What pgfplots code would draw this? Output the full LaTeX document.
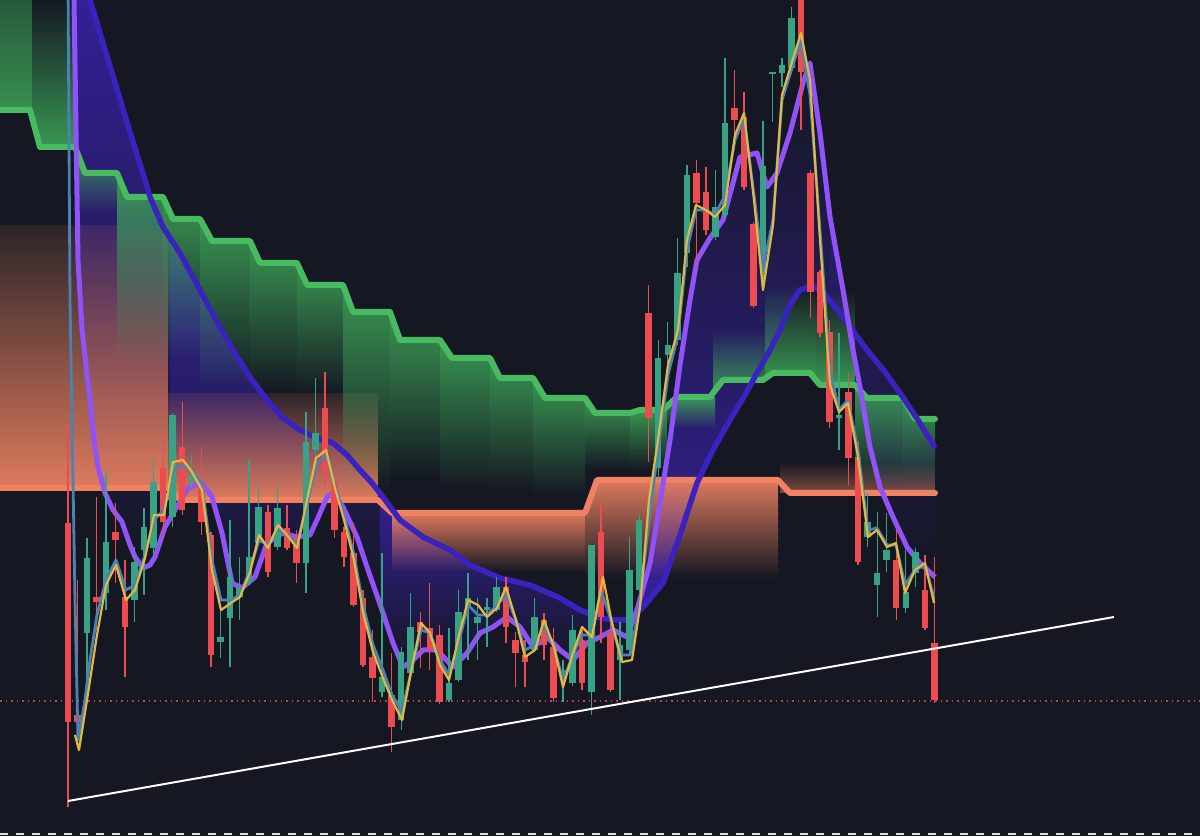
\documentclass[border=0pt]{standalone}
\usepackage{pgfplots}
\usepackage{pgfplotstable}
\pgfplotsset{compat=1.18}
\usepgfplotslibrary{fillbetween}
\usetikzlibrary{fadings}

\definecolor{bg}{RGB}{21,24,35}
\definecolor{candup}{RGB}{56,163,132}
\definecolor{canddn}{RGB}{236,76,80}
\definecolor{gline}{RGB}{72,187,96}
\definecolor{gfill}{RGB}{62,165,88}
\definecolor{oline}{RGB}{240,130,98}
\definecolor{ofill}{RGB}{232,128,96}
\definecolor{indline}{RGB}{58,34,190}
\definecolor{indfill}{RGB}{62,34,185}
\definecolor{purline}{RGB}{146,82,250}
\definecolor{maylw}{RGB}{226,184,62}
\definecolor{mablu}{RGB}{72,130,182}

\tikzfading[name=fadedown, top color=transparent!0, bottom color=transparent!100]
\tikzfading[name=fadeup, top color=transparent!100, bottom color=transparent!0]
\tikzfading[name=fadeupsoft, top color=transparent!88, bottom color=transparent!0]
\tikzfading[name=fadeuplight, top color=transparent!45, bottom color=transparent!0]

% candles, pixel rows (y grows downwards), x = 68 + 9.52*i
\pgfplotstableread{
i hi top bot lo
0 428 523 722 807
1 580 715 722 728
3 497 597 602 630
5 503 532 540 583
6 560 597 627 677
10 433 468 522 538
12 402 447 510 515
14 447 485 522 535
15 532 535 655 667
21 505 512 572 577
23 505 528 548 550
24 530 537 563 583
27 372 408 473 485
28 478 482 530 538
29 527 532 557 567
30 523 553 605 607
31 590 598 665 667
32 630 657 678 702
34 653 695 727 752
37 612 622 632 668
38 583 628 650 670
39 625 635 702 704
46 577 587 627 643
47 632 640 653 687
48 640 655 662 687
50 613 620 645 660
51 628 647 698 702
54 630 640 683 690
56 503 532 617 643
57 622 633 690 692
61 285 313 418 462
66 160 173 203 267
67 167 192 230 235
70 70 108 120 143
71 92 117 187 190
72 222 224 306 308
77 -5 -5 72 130
78 170 173 292 318
79 270 272 333 337
80 320 332 422 428
82 373 392 458 485
83 442 457 562 565
87 530 560 608 620
90 555 590 628 630
91 557 643 700 703
}\dntab

\pgfplotstableread{
i hi top bot lo
2 538 558 633 700
4 473 542 593 610
7 547 562 600 622
8 508 527 550 595
9 460 482 548 557
11 413 415 517 527
13 455 475 482 490
16 608 637 642 658
17 520 577 618 667
18 557 588 597 620
19 460 557 583 585
20 487 507 543 545
22 488 508 547 550
25 412 442 563 593
26 378 433 450 460
33 553 677 692 697
35 647 652 720 730
36 593 627 673 675
40 628 683 700 702
41 590 612 680 682
42 573 598 608 660
43 598 617 623 660
44 598 607 610 647
45 577 587 610 612
49 598 617 650 652
52 660 670 680 702
53 615 630 683 686
55 545 545 692 715
58 622 645 660 700
59 537 570 650 652
60 515 520 590 600
62 340 358 468 480
63 322 345 355 368
64 238 273 340 345
65 165 175 253 267
68 170 207 237 240
69 58 123 215 217
73 121 166 273 285
74 72 72 74 122
75 58 65 73 87
76 7 18 68 70
81 333 415 418 450
84 493 522 537 547
85 512 573 585 617
86 513 550 560 572
88 550 592 608 613
89 548 552 573 587
}\uptab

\pgfplotstableread{
x y
72 -60
74 0
76 130
78 260
82 330
87 375
90 400
94 440
98 467
105 493
113 510
122 522
130 545
135 557
143 568
150 565
155 557
165 527
175 510
188 488
202 483
212 497
222 533
232 583
242 588
255 577
267 543
283 533
297 537
310 535
317 520
327 497
333 493
343 507
357 537
367 567
383 613
393 643
403 667
413 660
423 650
437 650
453 667
467 653
480 633
493 627
507 617
520 627
533 647
547 637
560 650
573 660
587 643
600 637
613 630
627 637
637 610
650 563
660 503
670 440
680 365
690 300
697 260
710 238
723 220
740 157
757 153
767 187
777 173
790 133
803 83
810 63
820 133
830 217
843 290
853 350
860 387
870 447
880 487
893 517
907 547
920 563
935 577
}\purtab

\pgfplotstableread{
x y
86 -30
90 0
97 23
106 53
116 86
126 119
135 148
145 180
150 197
163 227
180 253
200 290
217 322
233 350
250 377
267 400
283 418
300 430
317 438
333 443
347 455
360 470
372 483
383 497
400 520
423 537
450 550
470 565
500 578
530 585
560 598
580 610
600 618
615 620
630 620
645 605
663 583
680 535
697 483
713 450
730 420
745 395
757 373
770 350
780 330
790 305
800 290
812 286
823 292
845 320
867 350
885 372
900 393
918 420
935 448
}\indtab

\pgfplotstableread{
x y
68 -20
70 300
73 480
75 600
78 740
85 700
90 660
97 615
106 580
116 560
126 590
135 585
145 555
154 520
164 510
173 470
183 465
192 470
202 485
212 560
221 600
231 600
240 595
250 570
259 540
268 545
278 528
287 535
297 545
307 505
316 465
326 455
335 485
344 515
354 555
363 605
373 645
383 670
392 695
402 712
411 672
421 630
430 633
440 660
449 675
458 645
468 605
478 615
487 615
497 605
506 595
516 620
525 650
535 645
544 625
554 648
563 680
573 655
582 635
592 635
601 590
611 620
620 655
630 655
639 610
649 520
658 450
668 375
678 335
687 250
696 210
706 210
715 215
725 195
735 140
744 118
754 195
763 268
773 220
782 100
792 68
801 40
810 95
820 230
830 370
839 410
848 400
858 450
868 530
877 528
887 545
896 545
905 585
915 570
925 565
934 598
}\blutab

\pgfplotstableread{
x y
75 735
79 750
87 700
97 635
106 585
116 565
126 600
135 590
145 558
154 515
164 515
173 462
183 460
192 472
202 490
212 570
221 610
231 603
240 597
250 572
259 535
268 548
278 525
287 535
297 548
307 500
316 458
326 450
335 488
344 520
354 560
363 612
373 652
383 678
392 700
402 720
411 672
421 623
430 633
440 665
449 680
458 640
468 600
478 605
487 617
497 608
506 587
516 620
525 657
535 650
544 620
554 647
563 687
573 653
582 627
592 637
603 577
612 623
622 662
632 660
640 607
649 500
658 440
668 365
678 330
687 240
696 205
706 210
715 217
725 205
735 135
744 113
754 200
763 290
773 225
782 95
792 62
801 33
810 80
820 240
830 385
839 412
848 403
858 457
868 537
877 530
887 547
896 543
905 593
915 570
925 563
934 603
}\yeltab

\pgfplotsset{
  gdn/.style={draw=none, fill=gfill, fill opacity=0.9, path fading=fadedown},
  gup/.style={draw=none, fill=gfill, fill opacity=0.9, path fading=fadeup},
  odn/.style={draw=none, fill=ofill, fill opacity=0.95, path fading=fadedown},
  oup/.style={draw=none, fill=ofill, fill opacity=0.95, path fading=fadeupsoft},
  wick/.style={draw=none, mark=none, error bars/.cd, y dir=plus, y explicit, error mark=none,
    error bar style={draw=#1, line width=1.4pt}},
  body/.style={draw=none, mark=none, error bars/.cd, y dir=plus, y explicit, error mark=none,
    error bar style={draw=#1, line width=6.5pt}},
}

\begin{document}
\begin{tikzpicture}
\begin{axis}[
  width=1200pt, height=836pt, scale only axis,
  xmin=0, xmax=1200, ymin=0, ymax=836, y dir=reverse,
  axis line style={draw=none}, ticks=none,
  axis background/.style={fill=bg},
  clip=true,
]
% orange cloud
\addplot[oup] coordinates {(0,225) (168,225) (168,488) (0,488)};
\addplot[oup] coordinates {(168,393) (378,393) (378,500) (168,500)};
\addplot[odn] coordinates {(392,513) (585,513) (585,572) (392,572)};
\addplot[odn] coordinates {(585,513) (597,480) (778,480) (778,578) (585,578)};
\addplot[draw=none, fill=ofill, fill opacity=0.5, path fading=fadeup] coordinates {(780,462) (935,462) (935,493) (780,493)};

% green cloud
\addplot[draw=none, fill=gfill, fill opacity=0.85, path fading=fadeuplight] coordinates {(0,0) (32,0) (32,110) (0,110)};
\addplot[gup] coordinates {(32,0) (75,0) (75,147) (40,147) (32,115)};
\addplot[gdn] coordinates {(75,147) (85,173) (117,173) (117,212) (75,212)};
\addplot[gdn] coordinates {(117,173) (127,197) (163,197) (163,365) (117,365)};
\addplot[gdn] coordinates {(163,197) (173,219) (200,219) (200,362) (163,362)};
\addplot[gdn] coordinates {(200,219) (212,241) (250,241) (250,390) (200,390)};
\addplot[gdn] coordinates {(250,241) (260,263) (297,263) (297,392) (250,392)};
\addplot[gdn] coordinates {(297,263) (307,285) (343,285) (343,395) (297,395)};
\addplot[gdn] coordinates {(343,285) (353,312) (390,312) (390,492) (343,492)};
\addplot[gdn] coordinates {(390,312) (400,340) (440,340) (440,478) (390,478)};
\addplot[gdn] coordinates {(440,340) (452,358) (490,358) (490,490) (440,490)};
\addplot[gdn] coordinates {(490,358) (500,378) (533,378) (533,490) (490,490)};
\addplot[gdn] coordinates {(533,378) (545,398) (585,398) (585,495) (533,495)};
\addplot[gdn] coordinates {(585,398) (595,413) (630,413) (630,470) (585,470)};
\addplot[gdn] coordinates {(630,413) (640,410) (667,410) (667,470) (630,470)};
\addplot[gdn] coordinates {(667,410) (677,397) (715,397) (715,428) (667,428)};
\addplot[gup] coordinates {(713,330) (765,330) (765,380) (723,380) (713,395)};
\addplot[gup] coordinates {(765,285) (815,285) (815,380) (810,373) (773,373) (765,380)};
\addplot[gup] coordinates {(815,290) (855,290) (855,385) (820,385) (815,380)};
\addplot[gdn] coordinates {(855,385) (867,398) (903,398) (903,490) (855,490)};
\addplot[gdn] coordinates {(903,398) (915,419) (935,419) (935,490) (903,490)};

% band between the slow averages, strongest next to the slow line
\addplot[draw=none, name path=pur] table[x=x, y=y] {\purtab};
\addplot[draw=none, name path=ind] table[x=x, y=y] {\indtab};
\addplot[draw=none, fill=indfill, fill opacity=0.85, path fading=fadedown] fill between[of=pur and ind, soft clip={domain=0:170}];
\addplot[draw=none, fill=indfill, fill opacity=0.8, path fading=fadedown] fill between[of=pur and ind, soft clip={domain=170:380}];
\addplot[draw=none, fill=indfill, fill opacity=0.8, path fading=fadedown] fill between[of=pur and ind, soft clip={domain=380:640}];
\addplot[draw=none, fill=indfill, fill opacity=0.8, path fading=fadeup] fill between[of=pur and ind, soft clip={domain=640:830}];
\addplot[draw=none, fill=indfill, fill opacity=0.5, path fading=fadedown] fill between[of=pur and ind, soft clip={domain=830:940}];

% cloud edges
\addplot[oline, line width=6pt, line cap=round, line join=round] coordinates {(0,488) (168,488) (180,500) (378,500) (392,513) (585,513) (597,480) (778,480) (790,493) (935,493)};
\addplot[gline, line width=6pt, line cap=round, line join=round] coordinates {(0,110) (30,110) (40,147) (75,147) (85,173) (117,173) (127,197) (163,197) (173,219) (200,219) (212,241) (250,241) (260,263) (297,263) (307,285) (343,285) (353,312) (390,312) (400,340) (440,340) (452,358) (490,358) (500,378) (533,378) (545,398) (585,398) (595,413) (630,413) (640,410) (663,410) (677,397) (710,397) (723,380) (763,380) (773,373) (810,373) (820,385) (855,385) (867,398) (903,398) (915,419) (935,419)};

\addplot[indline, line width=5.5pt, line join=round] table[x=x, y=y] {\indtab};
\addplot[purline, line width=5pt, line join=round] table[x=x, y=y] {\purtab};

% level lines
\addplot[canddn, line width=1.2pt, dash pattern=on 1.5pt off 4pt, opacity=0.8] coordinates {(0,701) (1200,701)};
\addplot[white!75!gray, line width=2pt, dash pattern=on 8pt off 8pt] coordinates {(0,834) (1200,834)};

% candles
\addplot[wick=canddn] table[x expr=68+9.52*\thisrow{i}, y=hi, y error plus expr=\thisrow{lo}-\thisrow{hi}] {\dntab};
\addplot[body=canddn] table[x expr=68+9.52*\thisrow{i}, y=top, y error plus expr=\thisrow{bot}-\thisrow{top}] {\dntab};
\addplot[wick=candup] table[x expr=68+9.52*\thisrow{i}, y=hi, y error plus expr=\thisrow{lo}-\thisrow{hi}] {\uptab};
\addplot[body=candup] table[x expr=68+9.52*\thisrow{i}, y=top, y error plus expr=\thisrow{bot}-\thisrow{top}] {\uptab};

% fast averages
\addplot[mablu, line width=2.8pt, line join=round] table[x=x, y=y] {\blutab};
\addplot[maylw, line width=2.2pt, line join=round] table[x=x, y=y] {\yeltab};

% trend line
\addplot[white, line width=2pt] coordinates {(68,801) (1114,617)};
\end{axis}
\end{tikzpicture}
\end{document}
